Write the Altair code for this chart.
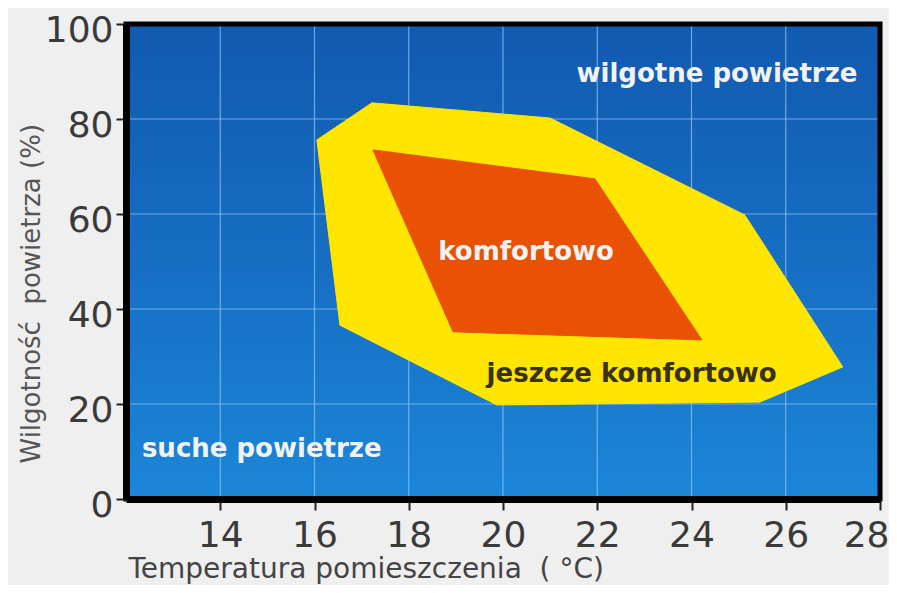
import altair as alt
import pandas as pd

# ---- data ----
x_domain = [12, 28]
y_domain = [0, 100]
x_ticks = [14, 16, 18, 20, 22, 24, 26, 28]
y_ticks = [0, 20, 40, 60, 80, 100]
x_grid = [14, 16, 18, 20, 22, 24, 26]
y_grid = [20, 40, 60, 80]

yellow_t = [16.05, 17.22, 21.0, 25.13, 27.21, 25.45, 19.87, 16.54]
yellow_h = [75.6, 83.4, 80.2, 59.8, 27.8, 20.4, 19.8, 36.6]
orange_t = [17.24, 21.95, 24.22, 18.94]
orange_h = [73.5, 67.4, 33.5, 35.2]

label_text = ["wilgotne powietrze", "komfortowo", "jeszcze komfortowo", "suche powietrze"]
label_t = [24.54, 20.49, 22.73, 14.88]
label_h = [87.8, 50.3, 24.6, 8.84]
label_color = ["#f2f2f2", "#f2f2f2", "#3a3012", "#f2f2f2"]

x_title = "Temperatura pomieszczenia\u00a0 (\u00a0\u00b0C)"
y_title = "Wilgotno\u015b\u0107\u00a0 powietrza (%)"

# ---- shared encodings ----
xs = alt.Scale(domain=x_domain, nice=False, zero=False)
ys = alt.Scale(domain=y_domain, nice=False, zero=False)

x_axis = alt.Axis(
    values=x_ticks, grid=False, title=x_title,
    domainColor="black", domainWidth=7,
    tickColor="#222222", tickWidth=2, tickSize=11,
    labelFont="DejaVu Sans", labelFontSize=36, labelColor="#3a3a3a",
    labelPadding=8, labelFlush=True, labelFlushOffset=9, labelOverlap=False,
    titleFont="DejaVu Sans", titleFontSize=28, titleFontWeight="normal",
    titleColor="#444444", titleAnchor="start", titleAlign="left",
    titleBaseline="alphabetic", titleX=2, titleY=78, zindex=1,
)
y_axis = alt.Axis(
    values=y_ticks, grid=False, title=y_title,
    domainColor="black", domainWidth=7,
    tickColor="#222222", tickWidth=2, tickSize=10,
    labelFont="DejaVu Sans", labelFontSize=36, labelColor="#3a3a3a",
    labelPadding=3, labelOffset=6, labelBaseline="middle",
    labelFlush=False, labelOverlap=False,
    titleFont="DejaVu Sans", titleFontSize=26, titleFontWeight="normal",
    titleColor="#555555", titleAnchor="start", titleAlign="left",
    titleAngle=270, titleBaseline="alphabetic", titleX=-87, titleY=439, zindex=1,
)


def X(field):
    return alt.X(field, type="quantitative", scale=xs, axis=x_axis)


def Y(field):
    return alt.Y(field, type="quantitative", scale=ys, axis=y_axis)


# background panel
bg_df = pd.DataFrame({"t": [x_domain[0]], "t2": [x_domain[1]],
                      "h": [y_domain[0]], "h2": [y_domain[1]]})
bg = alt.Chart(bg_df).mark_rect(
    fill=alt.Gradient(
        gradient="linear",
        stops=[alt.GradientStop(color="#115ab0", offset=0),
               alt.GradientStop(color="#166ec3", offset=0.5),
               alt.GradientStop(color="#1c86d8", offset=1)],
        x1=0, x2=0, y1=0, y2=1,
    )
).encode(x=X("t"), x2="t2", y=Y("h"), y2="h2")

# grid lines
vgrid = alt.Chart(pd.DataFrame({"t": x_grid})).mark_rule(
    color="#8fc2f0", strokeWidth=1.2, opacity=0.75
).encode(x=X("t"))
hgrid = alt.Chart(pd.DataFrame({"h": y_grid})).mark_rule(
    color="#8fc2f0", strokeWidth=1.2, opacity=0.75
).encode(y=Y("h"))

# polygons
ydf = pd.DataFrame({"t": yellow_t, "h": yellow_h, "i": list(range(len(yellow_t)))})
odf = pd.DataFrame({"t": orange_t, "h": orange_h, "i": list(range(len(orange_t)))})

yellow = alt.Chart(ydf).mark_line(
    interpolate="linear-closed", fill="#ffe600", stroke="#ffe600", strokeWidth=1
).encode(x=X("t"), y=Y("h"), order="i:Q")
orange = alt.Chart(odf).mark_line(
    interpolate="linear-closed", fill="#e95104", stroke="#e95104", strokeWidth=1
).encode(x=X("t"), y=Y("h"), order="i:Q")

# labels
ldf = pd.DataFrame({"t": label_t, "h": label_h, "s": label_text, "c": label_color})
labels = alt.Chart(ldf).mark_text(
    font="DejaVu Sans", fontWeight="bold", fontSize=26,
    align="center", baseline="alphabetic"
).encode(x=X("t"), y=Y("h"), text="s:N", color=alt.Color("c:N", scale=None))

# frame
frame = alt.Chart(bg_df).mark_rect(
    fill="transparent", stroke="black", strokeWidth=5
).encode(x=X("t"), x2="t2", y=Y("h"), y2="h2")

chart = alt.layer(bg, vgrid, hgrid, yellow, orange, labels, frame).properties(
    width=754, height=475,
    autosize=alt.AutoSizeParams(type="none"),
    padding={"left": 118, "top": 16, "right": 9, "bottom": 86},
).configure(background="#efefef").configure_view(stroke=None)

chart.save("out.html", embed_options={"renderer": "svg", "actions": False})
